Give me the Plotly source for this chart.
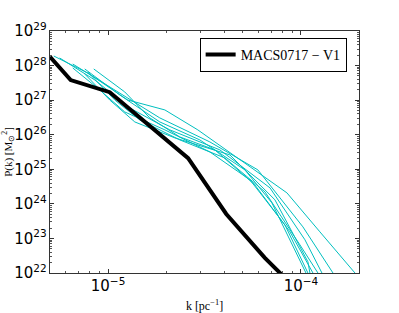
import plotly.graph_objects as go

# black curve: MACS0717-V1
k_main = [5.0e-6, 6.4e-6, 1.02e-5, 1.63e-5, 2.6e-5, 4.1e-5, 6.5e-5, 1.04e-4]
p_main = [1.8e28, 3.8e27, 1.7e27, 1.9e26, 2.1e25, 5.1e23, 2.75e22, 2.0e21]

# cyan comparison curves
k_c1 = [5.23e-6, 7.85e-6, 1.265e-5, 1.97e-5, 2.92e-5, 8.46e-5, 1.254e-4, 1.906e-4]
p_c1 = [1.89e28, 6.11e27, 1.01e27, 5.21e26, 1.38e26, 2.08e24, 1.55e23, 1.0e22]
k_c2 = [6.56e-6, 1.083e-5, 1.855e-5, 3.37e-5, 5.98e-5, 1.024e-4, 1.466e-4]
p_c2 = [1.11e28, 1.97e27, 3.06e26, 6.19e25, 9.61e24, 2.16e23, 1.0e22]
k_c3 = [7.57e-6, 1.15e-5, 1.855e-5, 2.99e-5, 5.12e-5, 7.07e-5, 1.062e-4]
p_c3 = [7.98e27, 1.41e27, 2.34e26, 7.08e25, 9.61e24, 1.07e24, 1.0e22]
k_c4 = [8.43e-6, 1.22e-5, 1.646e-5, 2.355e-5, 3.58e-5, 5.77e-5, 8.77e-5, 1.154e-4]
p_c4 = [7.98e27, 1.73e27, 3.06e26, 8.63e25, 3.64e25, 3.54e24, 1.55e23, 1.0e22]
k_c5 = [7.85e-6, 1.083e-5, 1.46e-5, 2.355e-5, 4.03e-5, 6.51e-5, 9.88e-5, 1.225e-4]
p_c5 = [6.53e27, 1.01e27, 2.68e26, 7.08e25, 2.13e25, 2.22e24, 6.53e22, 1.0e22]
k_c6 = [6.56e-6, 9.06e-6, 1.22e-5, 1.97e-5, 3.37e-5, 5.44e-5, 8.26e-5, 1.087e-4]
p_c6 = [8.53e27, 1.97e27, 4.56e26, 1.38e26, 3.18e25, 4.94e24, 2.47e23, 1.0e22]
k_c7 = [5.61e-6, 8.53e-6, 1.296e-5, 2.09e-5, 3.80e-5, 6.91e-5, 1.049e-4, 1.285e-4]
p_c7 = [1.66e28, 3.84e27, 5.95e26, 1.38e26, 3.64e25, 2.90e24, 9.12e22, 1.0e22]
k_c8 = [7.57e-6, 1.02e-5, 1.376e-5, 2.22e-5, 4.28e-5, 7.33e-5, 1.087e-4, 1.113e-4]
p_c8 = [5.72e27, 1.01e27, 2.34e26, 8.09e25, 2.61e25, 1.31e24, 2.11e22, 1.0e22]

cyan_k = [k_c1, k_c2, k_c3, k_c4, k_c5, k_c6, k_c7, k_c8]
cyan_p = [p_c1, p_c2, p_c3, p_c4, p_c5, p_c6, p_c7, p_c8]

legend_label = "MACS0717 \u2212 V1"

fig = go.Figure()
for kk, pp in zip(cyan_k, cyan_p):
    fig.add_trace(go.Scatter(x=kk, y=pp, mode="lines", showlegend=False,
                             line=dict(color="#00BFBF", width=1)))
fig.add_trace(go.Scatter(x=k_main, y=p_main, mode="lines", name=legend_label,
                         line=dict(color="black", width=4)))

axis_common = dict(
    type="log", showgrid=False, zeroline=False, automargin=False,
    showline=True, linecolor="#333", linewidth=1, mirror="allticks",
    ticks="inside", ticklen=4, tickcolor="#333",
    exponentformat="power", showexponent="all", dtick=1,
    tickfont=dict(family="DejaVu Sans", size=12, color="black"),
    minor=dict(ticks="inside", ticklen=2, tickcolor="#555", dtick="D1", showgrid=False),
)

fig.update_xaxes(range=[-5.30103, -3.69897], **axis_common,
                 title=dict(text="k [pc<sup>\u22121</sup>]",
                            font=dict(family="Liberation Serif", size=12, color="black")))
fig.update_yaxes(range=[22, 29], **axis_common,
                 title=dict(text="P(k) [M<sub>\u2299</sub><sup>2</sup>]",
                            font=dict(family="Liberation Serif", size=11, color="black")))

fig.update_layout(
    width=399, height=313,
    margin=dict(l=50, r=40, t=31, b=40, autoexpand=False),
    plot_bgcolor="white", paper_bgcolor="white",
    legend=dict(x=0.96, y=0.971, xanchor="right", yanchor="top",
                bordercolor="black", borderwidth=1, bgcolor="white",
                font=dict(family="Liberation Serif", size=14, color="black"),
                itemwidth=30),
)

fig.write_html("out.html", config={"displayModeBar": False},
               post_script="document.body.style.margin='0px';")
